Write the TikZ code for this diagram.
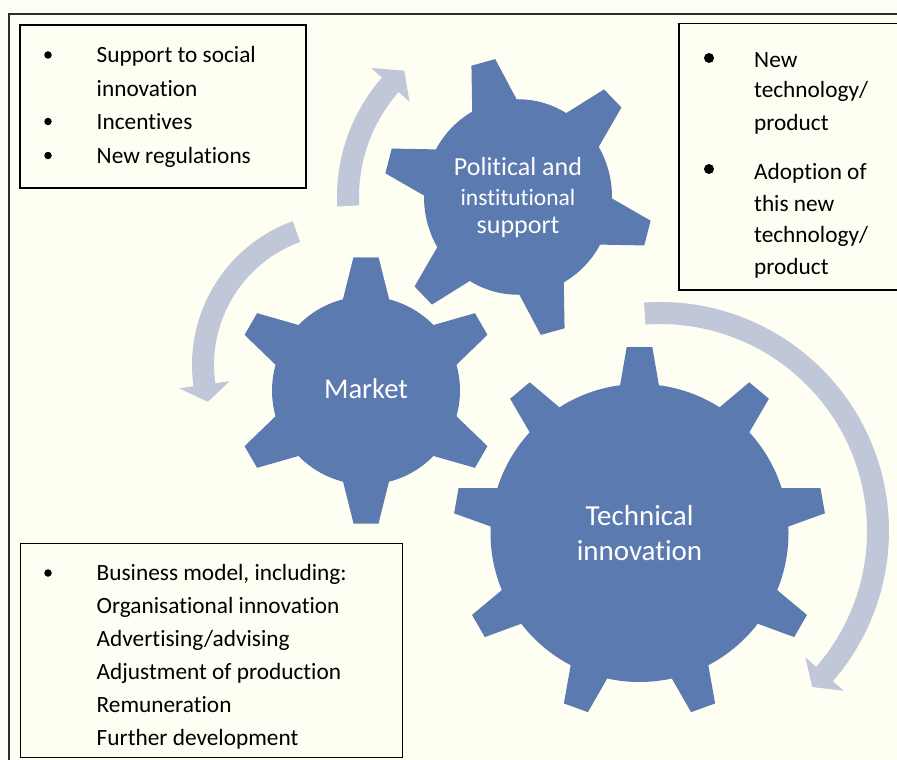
\documentclass[tikz,border=0pt]{standalone}
\usepackage{fontspec}
\setmainfont{Carlito}[Ligatures={NoCommon}]
\definecolor{bgcream}{RGB}{254,254,243}
\definecolor{gearblue}{RGB}{91,122,176}
\definecolor{arrowgray}{RGB}{191,199,217}
\definecolor{framecol}{RGB}{45,45,45}
\tikzset{
  boxtext/.style={anchor=base west, inner sep=0pt, font=\fontsize{23.3}{28}\selectfont},
  geartext/.style={anchor=base, inner sep=0pt, text=white},
  bulletdot/.style={circle, fill=black, inner sep=0pt, minimum size=#1},
  gearfill/.style={fill=gearblue},
  arrowfill/.style={fill=arrowgray},
}
\begin{document}
\begin{tikzpicture}[x=1pt,y=1pt]
\useasboundingbox (0,0) rectangle (897,-760);
\clip (0,0) rectangle (897,-760);
\fill[bgcream] (0,0) rectangle (897,-760);
% outer frame
\draw[framecol, line width=2pt] (9,-790) -- (9,-14) -- (920,-14);
% boxes
\draw[black, line width=2pt] (20,-25) rectangle (306,-188);
\draw[black, line width=1.2pt] (679,-23.5) rectangle (920,-290);
\draw[black, line width=1pt] (20,-543) rectangle (402,-757);

% circular arrows
\begin{scope}[shift={(518,-197)}]
  \fill[arrowfill] (183:181pt) arc[start angle=183, end angle=138.7, radius=181pt]
    -- (138.7:195.5pt) -- (132:170pt) -- (138.7:144.5pt) -- (138.7:159pt)
    arc[start angle=138.7, end angle=183, radius=159pt] -- cycle;
\end{scope}
\begin{scope}[shift={(345,-365)}]
  \fill[arrowfill] (110:153pt) arc[start angle=110, end angle=188, radius=153pt]
    -- (188:167.5pt) -- (195:142pt) -- (188:116.5pt) -- (188:131pt)
    arc[start angle=188, end angle=110, radius=131pt] -- cycle;
\end{scope}
\begin{scope}[shift={(660,-531)}]
  \fill[arrowfill] (94:229pt) arc[start angle=94, end angle=-41, radius=229pt]
    -- (-41:243.5pt) -- (-45.7:218pt) -- (-41:192.5pt) -- (-41:207pt)
    arc[start angle=-41, end angle=94, radius=207pt] -- cycle;
\end{scope}

% gears
\begin{scope}[shift={(518,-197)}, yscale=1.04]
  \fill[gearfill] (0,0) circle[radius=94pt];
  \foreach \a in {105,165,...,405}{
    \fill[gearfill, rotate=\a] (79,-26) -- (134,-12.3) -- (134,12.3) -- (79,26) -- cycle;
  }
\end{scope}
\begin{scope}[shift={(366,-390.5)}]
  \fill[gearfill] (0,0) circle[radius=94pt];
  \foreach \a in {90,150,...,450}{
    \fill[gearfill, rotate=\a] (79,-26) -- (133,-12.5) -- (133,12.5) -- (79,26) -- cycle;
  }
\end{scope}
\begin{scope}[shift={(639.5,-533)}]
  \fill[gearfill] (0,0) circle[radius=149pt];
  \foreach \a in {90,130,...,410}{
    \fill[gearfill, rotate=\a] (134,-21.8) -- (186,-12.8) -- (186,12.8) -- (134,21.8) -- cycle;
  }
\end{scope}

% gear labels
\node[geartext, font=\fontsize{26}{30}\selectfont] (pol1) at (518,-175) {Political and};
\node[geartext, font=\fontsize{23.5}{30}\selectfont] (pol2) at (518,-205) {institutional};
\node[geartext, font=\fontsize{26}{30}\selectfont] (pol3) at (518,-233.5) {support};
\node[geartext, font=\fontsize{28.6}{34}\selectfont] (mkt) at (366,-398.3) {Market};
\node[geartext, font=\fontsize{29}{35}\selectfont] (tec1) at (639.5,-525) {Technical};
\node[geartext, font=\fontsize{29}{35}\selectfont] (tec2) at (639.5,-560.7) {innovation};

% upper-left box text
\node[bulletdot=7.5pt] (ulb1) at (48,-55) {};
\node[bulletdot=7.5pt] (ulb2) at (48,-121.5) {};
\node[bulletdot=7.5pt] (ulb3) at (48,-155.5) {};
\node[boxtext] (ul1) at (96.5,-62.5) {Support to social};
\node[boxtext] (ul2) at (96.5,-96) {innovation};
\node[boxtext] (ul3) at (96.5,-129) {Incentives};
\node[boxtext] (ul4) at (96.5,-163) {New regulations};

% upper-right box text
\node[bulletdot=10pt] (urb1) at (709,-58) {};
\node[bulletdot=10pt] (urb2) at (709,-169) {};
\node[boxtext] (ur1) at (754,-67) {New};
\node[boxtext] (ur2) at (754,-98) {technology/};
\node[boxtext] (ur3) at (754,-130.5) {product};
\node[boxtext] (ur4) at (754,-179.5) {Adoption of};
\node[boxtext] (ur5) at (754,-211) {this new};
\node[boxtext] (ur6) at (754,-242.5) {technology/};
\node[boxtext] (ur7) at (754,-274) {product};

% bottom-left box text
\node[bulletdot=7.5pt] (blb1) at (48,-573) {};
\node[boxtext] (bl1) at (96.5,-580) {Business model, including:};
\node[boxtext] (bl2) at (96.5,-613) {Organisational innovation};
\node[boxtext] (bl3) at (96.5,-646) {Advertising/advising};
\node[boxtext] (bl4) at (96.5,-679) {Adjustment of production};
\node[boxtext] (bl5) at (96.5,-712) {Remuneration};
\node[boxtext] (bl6) at (96.5,-745) {Further development};
\end{tikzpicture}
\end{document}
